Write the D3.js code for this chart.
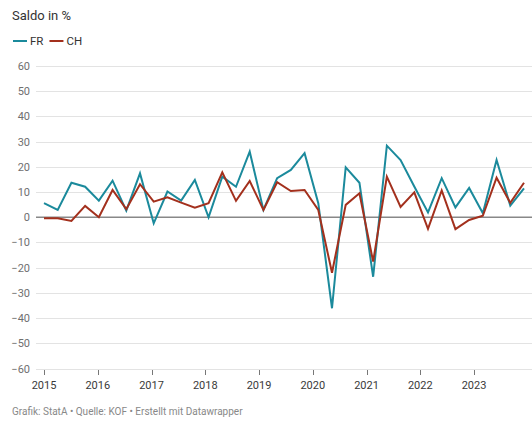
<!DOCTYPE html>
<html>
<head>
<meta charset="utf-8">
<script src="https://cdn.jsdelivr.net/npm/d3@7"></script>
<style>
  body { margin: 0; background: #fff; font-family: Roboto, "Noto Sans", sans-serif; }
</style>
</head>
<body>
<div id="chart"></div>
<script>
// quarterly categories, 2015 Q1 .. 2023 Q4
const quarters = [
    "2015 Q1", "2015 Q2", "2015 Q3", "2015 Q4",
    "2016 Q1", "2016 Q2", "2016 Q3", "2016 Q4",
    "2017 Q1", "2017 Q2", "2017 Q3", "2017 Q4",
    "2018 Q1", "2018 Q2", "2018 Q3", "2018 Q4",
    "2019 Q1", "2019 Q2", "2019 Q3", "2019 Q4",
    "2020 Q1", "2020 Q2", "2020 Q3", "2020 Q4",
    "2021 Q1", "2021 Q2", "2021 Q3", "2021 Q4",
    "2022 Q1", "2022 Q2", "2022 Q3", "2022 Q4",
    "2023 Q1", "2023 Q2", "2023 Q3", "2023 Q4"
];

const fr = [
    5.6, 2.9, 13.7, 12.1, 6.6, 14.5, 2.6, 17.4,
    -2.4, 10.2, 6.6, 14.8, 0, 16.1, 12.1, 26.0,
    2.9, 15.5, 18.8, 25.4, 5.6, -36.1, 19.8, 13.7,
    -23.6, 28.4, 22.7, 12.2, 1.9, 15.5, 3.9, 11.6,
    1.6, 22.7, 4.6, 11.5
];

const ch = [
    -0.4, -0.4, -1.5, 4.5, 0, 10.8, 3.2, 13.1,
    6.2, 7.9, 5.8, 3.8, 5.6, 17.8, 6.5, 14.4,
    2.9, 13.9, 10.4, 10.8, 2.9, -22.0, 4.9, 9.5,
    -17.6, 16.1, 4.1, 9.9, -4.6, 10.6, -4.7, -1.1,
    0.6, 15.7, 5.7, 13.7
];

const years = [2015, 2016, 2017, 2018, 2019, 2020, 2021, 2022, 2023];
const yTicks = [60, 50, 40, 30, 20, 10, 0, -10, -20, -30, -40, -50, -60];

const seriesNames = ["FR", "CH"];
const seriesColours = ["#1b8a9c", "#a3301d"];

const width = 532;
const height = 423;

const svg = d3.select('#chart')
    .append('svg')
    .attr('width', width)
    .attr('height', height)
    .style('font-family', 'Roboto, "Noto Sans", sans-serif');

// scales
const x = d3.scalePoint()
    .domain(quarters)
    .range([44, 524]);

// year ticks sit on their own scale, slightly narrower than the data points
const xYear = d3.scaleLinear()
    .domain([2015, 2024])
    .range([44, 527.75]);

const y = d3.scaleLinear()
    .domain([-60, 60])
    .range([368.5, 66]);

// title
svg.append('text')
    .attr('x', 12)
    .attr('y', 20)
    .attr('fill', '#333')
    .style('font-size', '13px')
    .text('Saldo in %');

// legend
const legend = svg.append('g').attr('transform', 'translate(13,41)');
let lx = 0;
seriesNames.forEach((name, i) => {
    legend.append('line')
        .attr('x1', lx).attr('x2', lx + 14)
        .attr('y1', 0).attr('y2', 0)
        .attr('stroke', seriesColours[i])
        .attr('stroke-width', 2);
    const t = legend.append('text')
        .attr('x', lx + 17)
        .attr('y', 4)
        .attr('fill', '#333')
        .style('font-size', '11.5px')
        .text(name);
    lx += 17 + t.node().getComputedTextLength() + 6;
});

// gridlines + y labels
const grid = svg.append('g');
grid.selectAll('line')
    .data(yTicks.filter(d => d !== 0))
    .enter()
    .append('line')
    .attr('x1', 36).attr('x2', width)
    .attr('y1', d => Math.round(y(d)) + 0.5)
    .attr('y2', d => Math.round(y(d)) + 0.5)
    .attr('stroke', '#e3e3e3')
    .attr('stroke-width', 1);

grid.selectAll('text')
    .data(yTicks)
    .enter()
    .append('text')
    .attr('x', 30)
    .attr('y', d => y(d) + 4)
    .attr('text-anchor', 'end')
    .attr('fill', '#6f6f6f')
    .style('font-size', '11px')
    .text(d => d < 0 ? '\u2212' + Math.abs(d) : d);

// x axis ticks and labels
const xAxis = svg.append('g');
xAxis.selectAll('line')
    .data(years)
    .enter()
    .append('line')
    .attr('x1', d => Math.round(xYear(d)) + 0.5)
    .attr('x2', d => Math.round(xYear(d)) + 0.5)
    .attr('y1', 370)
    .attr('y2', 375)
    .attr('stroke', '#777')
    .attr('stroke-width', 1);

xAxis.selectAll('text')
    .data(years)
    .enter()
    .append('text')
    .attr('x', d => xYear(d))
    .attr('y', 389)
    .attr('text-anchor', 'middle')
    .attr('fill', '#3a3a3a')
    .style('font-size', '11px')
    .text(d => d);

// zero line
svg.append('line')
    .attr('x1', 36).attr('x2', width)
    .attr('y1', y(0)).attr('y2', y(0))
    .attr('stroke', '#888')
    .attr('stroke-width', 1.5);

// series lines
const line = d3.line()
    .x((d, i) => x(quarters[i]))
    .y(d => y(d));

[fr, ch].forEach((values, i) => {
    svg.append('path')
        .datum(values)
        .attr('d', line)
        .attr('fill', 'none')
        .attr('stroke', seriesColours[i])
        .attr('stroke-width', 2)
        .attr('stroke-linejoin', 'miter')
        .attr('stroke-miterlimit', 4);
});

// footer
svg.append('text')
    .attr('x', 12)
    .attr('y', 415)
    .attr('fill', '#888')
    .style('font-size', '10px')
    .text('Grafik: StatA \u2022 Quelle: KOF \u2022 Erstellt mit Datawrapper');
</script>
</body>
</html>
